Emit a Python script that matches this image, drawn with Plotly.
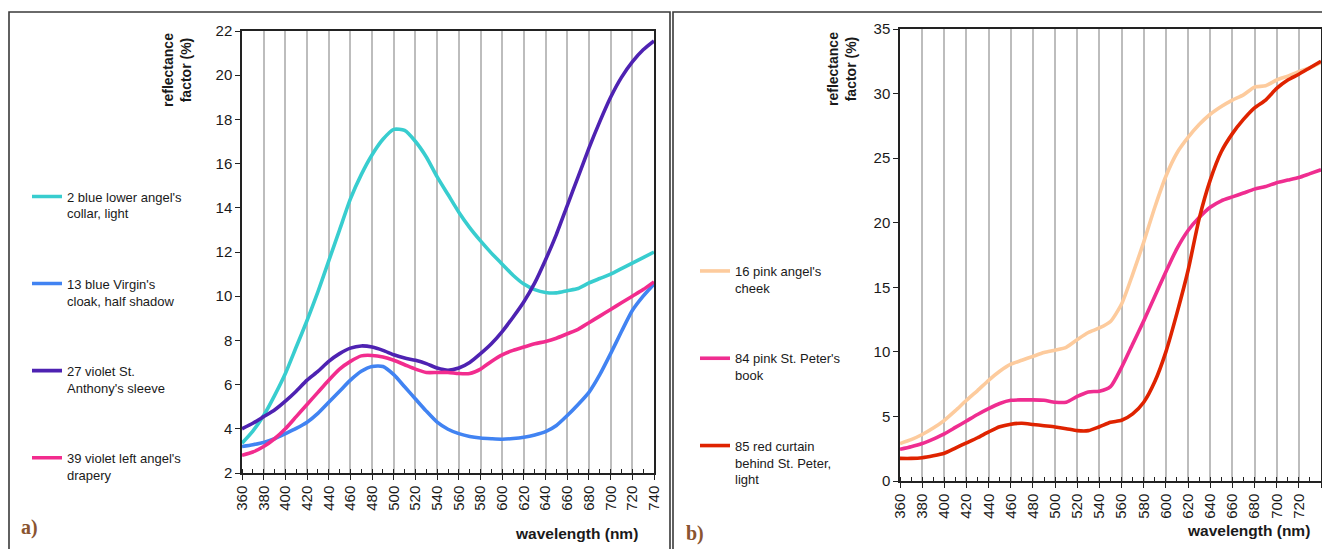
import plotly.graph_objects as go

W, H = 1322, 549

# wavelength grid (nm)
wavelength = list(range(360, 741, 10))

# panel a) reflectance factor (%)
collar_light = [3.35, 3.9, 4.6, 5.5, 6.5, 7.7, 8.9, 10.2, 11.6, 13.0, 14.4, 15.5, 16.4, 17.1, 17.55,
                17.5, 17.0, 16.3, 15.4, 14.6, 13.8, 13.1, 12.5, 11.95, 11.45, 10.95, 10.55, 10.3, 10.17,
                10.15, 10.25, 10.35, 10.6, 10.8, 11.0, 11.25, 11.5, 11.75, 12.0]
virgin_cloak = [3.2, 3.28, 3.38, 3.55, 3.78, 4.02, 4.3, 4.7, 5.2, 5.7, 6.2, 6.6, 6.82, 6.82, 6.45,
                5.9, 5.35, 4.8, 4.3, 3.98, 3.78, 3.65, 3.58, 3.55, 3.53, 3.56, 3.62, 3.72, 3.87,
                4.15, 4.6, 5.1, 5.65, 6.45, 7.4, 8.4, 9.35, 10.0, 10.55]
anthony_sleeve = [4.0, 4.25, 4.55, 4.85, 5.25, 5.7, 6.2, 6.6, 7.05, 7.4, 7.65, 7.75, 7.7, 7.55, 7.35,
                  7.2, 7.1, 6.95, 6.75, 6.65, 6.75, 7.0, 7.4, 7.85, 8.4, 9.05, 9.75, 10.6, 11.65,
                  12.8, 14.1, 15.4, 16.7, 17.9, 19.0, 19.9, 20.6, 21.15, 21.55]
angel_drapery = [2.8, 2.95, 3.2, 3.55, 4.0, 4.55, 5.1, 5.65, 6.2, 6.7, 7.05, 7.3, 7.32, 7.25, 7.1,
                 6.9, 6.7, 6.55, 6.55, 6.55, 6.5, 6.5, 6.7, 7.05, 7.35, 7.55, 7.7, 7.85, 7.95,
                 8.1, 8.3, 8.5, 8.8, 9.1, 9.4, 9.7, 10.0, 10.3, 10.65]

# panel b) reflectance factor (%)
angel_cheek = [2.9, 3.2, 3.6, 4.1, 4.7, 5.45, 6.25, 7.0, 7.8, 8.5, 9.05, 9.35, 9.65, 9.95, 10.13,
               10.35, 10.95, 11.5, 11.85, 12.35, 13.7, 16.0, 18.5, 21.2, 23.6, 25.4, 26.6, 27.6, 28.4,
               29.0, 29.5, 29.9, 30.5, 30.6, 31.05, 31.35, 31.7, 32.0, 32.4]
peter_book = [2.45, 2.65, 2.9, 3.25, 3.65, 4.15, 4.65, 5.15, 5.6, 6.0, 6.25, 6.28, 6.28, 6.25, 6.1,
              6.1, 6.55, 6.9, 6.95, 7.3, 8.8, 10.6, 12.4, 14.3, 16.2, 18.0, 19.4, 20.4, 21.2,
              21.7, 22.0, 22.3, 22.6, 22.8, 23.1, 23.3, 23.5, 23.8, 24.1]
red_curtain = [1.75, 1.75, 1.8, 1.95, 2.15, 2.55, 2.95, 3.35, 3.8, 4.2, 4.4, 4.47, 4.38, 4.28, 4.18,
               4.05, 3.9, 3.9, 4.2, 4.55, 4.7, 5.2, 6.1, 7.7, 10.0, 13.0, 16.3, 20.3, 23.3,
               25.5, 26.9, 28.0, 28.9, 29.5, 30.4, 31.05, 31.5, 32.0, 32.5]

series_a = [
    ("2 blue lower angel's<br>collar, light", collar_light, "#38CDCF"),
    ("13 blue Virgin's<br>cloak, half shadow", virgin_cloak, "#4183F2"),
    ("27 violet St.<br>Anthony's sleeve", anthony_sleeve, "#4E22B2"),
    ("39 violet left angel's<br>drapery", angel_drapery, "#F22C8E"),
]
series_b = [
    ("16 pink angel's<br>cheek", angel_cheek, "#FDCB9D"),
    ("84 pink St. Peter's<br>book", peter_book, "#EF2D90"),
    ("85 red curtain<br>behind St. Peter,<br>light", red_curtain, "#DF2300"),
]

FONT = "Liberation Sans, Arial, sans-serif"
TXT = "#1a1a1a"

fig = go.Figure()

for i, (name, ys, col) in enumerate(series_a):
    fig.add_trace(go.Scatter(x=wavelength, y=ys, mode="lines", name=name,
                             line=dict(color=col, width=3.6, shape="spline", smoothing=0.6),
                             xaxis="x", yaxis="y", legend="legend", legendgroup=f"a{i}"))
for i, (name, ys, col) in enumerate(series_b):
    fig.add_trace(go.Scatter(x=wavelength, y=ys, mode="lines", name=name,
                             line=dict(color=col, width=3.6, shape="spline", smoothing=0.6),
                             xaxis="x2", yaxis="y2", legend="legend2", legendgroup=f"b{i}"))


def px_x(p):
    return p / W


def px_y(p):
    return 1 - p / H


xaxis_common = dict(
    range=[360, 740], dtick=20, tick0=360, tickangle=-90, automargin=False,
    showgrid=True, gridcolor="#bdbdbd", gridwidth=1.6,
    showline=True, linecolor="#222", linewidth=1.5, mirror=True,
    ticks="outside", ticklen=5, tickcolor="#222", tickwidth=1.2,
    minor=dict(dtick=10, ticks="inside", ticklen=4, tickcolor="#222", showgrid=False),
    tickfont=dict(family=FONT, size=15, color=TXT), zeroline=False,
)
yaxis_common = dict(
    showgrid=False, showline=True, linecolor="#222", linewidth=1.5, mirror=True, automargin=False,
    ticks="outside", ticklen=5, tickcolor="#222", tickwidth=1.2,
    tickfont=dict(family=FONT, size=15, color=TXT), zeroline=False,
)

fig.update_layout(
    width=W, height=H,
    margin=dict(l=0, r=0, t=0, b=0),
    paper_bgcolor="white", plot_bgcolor="white",
    font=dict(family=FONT, color=TXT),
    xaxis=dict(domain=[px_x(242), px_x(654)], anchor="y", **xaxis_common),
    yaxis=dict(domain=[px_y(473), px_y(31)], anchor="x", range=[2, 22], dtick=2, **yaxis_common),
    xaxis2=dict(domain=[px_x(900), px_x(1321)], anchor="y2", **xaxis_common),
    yaxis2=dict(domain=[px_y(481), px_y(29)], anchor="x2", range=[0, 35], dtick=5, **yaxis_common),
    legend=dict(x=px_x(27), y=px_y(181.5), xanchor="left", yanchor="top",
                font=dict(family=FONT, size=13, color=TXT), valign="top",
                tracegroupgap=50.3, bgcolor="rgba(0,0,0,0)"),
    legend2=dict(x=px_x(695), y=px_y(256), xanchor="left", yanchor="top",
                 font=dict(family=FONT, size=13, color=TXT), valign="top",
                 tracegroupgap=50.5, bgcolor="rgba(0,0,0,0)"),
    showlegend=True,
)

# panel frames
for x0, x1 in [(9, 670), (673, 1330)]:
    fig.add_shape(type="rect", xref="paper", yref="paper",
                  x0=px_x(x0), x1=px_x(x1), y0=px_y(560), y1=px_y(12),
                  line=dict(color="#3a3a3a", width=1.6), fillcolor="rgba(0,0,0,0)", layer="below")

# axis titles
for xc, yc in [(177, 70), (842, 69)]:
    fig.add_annotation(x=px_x(xc), y=px_y(yc), xref="paper", yref="paper",
                       text="<b>reflectance<br>factor (%)</b>", textangle=-90, showarrow=False,
                       font=dict(family=FONT, size=14, color=TXT), xanchor="center", yanchor="middle")
for xc, yc in [(576, 533), (1248, 530)]:
    fig.add_annotation(x=px_x(xc), y=px_y(yc), xref="paper", yref="paper",
                       text="<b>wavelength (nm)</b>", showarrow=False,
                       font=dict(family=FONT, size=15.5, color=TXT), xanchor="center", yanchor="middle")

# panel letters
for xc, yc, lab in [(29, 527, "a)"), (695, 533, "b)")]:
    fig.add_annotation(x=px_x(xc), y=px_y(yc), xref="paper", yref="paper",
                       text=f"<b>{lab}</b>", showarrow=False,
                       font=dict(family="Liberation Serif, Times New Roman, serif", size=20, color="#8a5430"),
                       xanchor="center", yanchor="middle")

fig.write_html("out.html")
